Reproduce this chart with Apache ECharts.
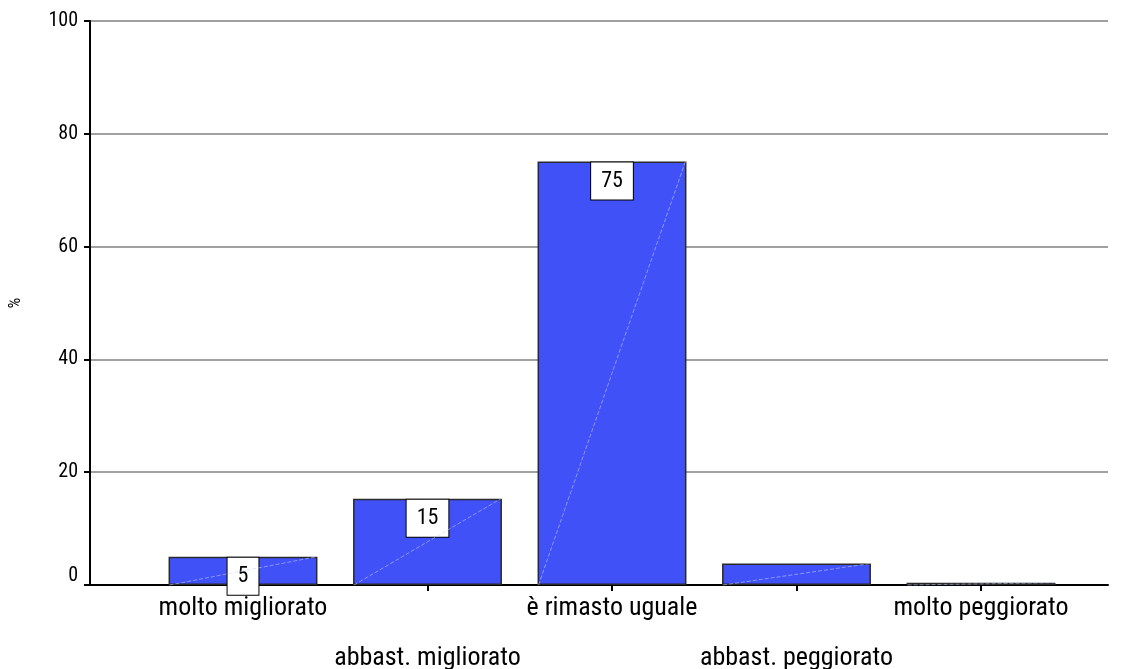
<!DOCTYPE html>
<html>
<head>
<meta charset="utf-8">
<script src="https://cdn.jsdelivr.net/npm/echarts@6/dist/echarts.min.js"></script>
<style>html,body{margin:0;padding:0;background:#fff}#c{width:1123px;height:669px}</style>
</head>
<body>
<div id="c"></div>
<script>
const categories = ['molto migliorato', 'abbast. migliorato', 'è rimasto uguale', 'abbast. peggiorato', 'molto peggiorato'];
const values = [5.0, 15.3, 75.1, 3.8, 0.4];
const valueLabels = ['5', '15', '75', '', ''];
const yTicks = [0, 20, 40, 60, 80, 100];

const FONT = "'Roboto Condensed', 'Liberation Sans Narrow', 'DejaVu Sans Condensed', 'Roboto', sans-serif";
const chart = echarts.init(document.getElementById('c'), null, {renderer: 'canvas'});

const barData = values.map((v, i) => ({
  value: v,
  label: {show: valueLabels[i] !== ''}
}));

const option = {
  animation: false,
  textStyle: {fontFamily: FONT},
  grid: [
    {left: 90, right: 15, top: 21, bottom: 84, containLabel: false, outerBoundsMode: 'none'},
    {left: 150.75, right: 49.75, top: 21, bottom: 84, containLabel: false, outerBoundsMode: 'none'}
  ],
  xAxis: [
    {gridIndex: 0, type: 'value', min: 0, max: 1,
     axisLine: {show: true, lineStyle: {color: '#000', width: 2}},
     axisTick: {show: false}, axisLabel: {show: false}, splitLine: {show: false}},
    {gridIndex: 1, type: 'category', data: categories, boundaryGap: true,
     axisLine: {show: false},
     axisTick: {show: true, alignWithLabel: true, length: 6, lineStyle: {color: '#000', width: 2}},
     axisLabel: {
       interval: 0, margin: 10, color: '#000', fontSize: 26, fontFamily: FONT,
       formatter: (v, i) => (i % 2 ? '{b|' + v + '}' : '{a|' + v + '}'),
       rich: {
         a: {fontSize: 26, fontFamily: FONT, color: '#000'},
         b: {fontSize: 26, fontFamily: FONT, color: '#000', padding: [50, 0, 0, 0]}
       }
     }}
  ],
  yAxis: [
    {gridIndex: 0, type: 'value', min: yTicks[0], max: yTicks[yTicks.length - 1], interval: 20,
     name: '%', nameLocation: 'middle', nameGap: 66, nameRotate: 90,
     nameTextStyle: {color: '#000', fontSize: 17, fontFamily: FONT},
     axisLine: {show: true, lineStyle: {color: '#000', width: 2}},
     axisTick: {show: true, inside: false, length: 6, lineStyle: {color: '#000', width: 2}},
     axisLabel: {color: '#000', fontSize: 20, margin: 12, fontFamily: FONT,
       formatter: v => (v === 0 ? '{z|0}' : String(v)),
       rich: {z: {fontSize: 20, fontFamily: FONT, color: '#000', padding: [0, 0, 18, 0]}}},
     splitLine: {show: true, lineStyle: {color: '#808080', width: 1.5}}},
    {gridIndex: 1, type: 'value', min: 0, max: 100, show: false, splitLine: {show: false}}
  ],
  series: [{
    type: 'bar', xAxisIndex: 1, yAxisIndex: 1,
    data: barData, barWidth: '80.7%',
    itemStyle: {color: '#4051F7', borderColor: '#2a2a2a', borderWidth: 1.5},
    label: {
      show: true, position: 'insideTop', distance: 1,
      formatter: p => valueLabels[p.dataIndex],
      color: '#000', fontSize: 22, fontFamily: FONT,
      backgroundColor: '#fff', borderColor: '#000', borderWidth: 1,
      padding: [8, 10, 7, 10]
    },
    z: 2
  }, {
    type: 'custom', xAxisIndex: 1, yAxisIndex: 1, z: 3, silent: true,
    data: values.map((v, i) => [i, v]),
    renderItem: (params, api) => {
      const base = api.coord([api.value(0), 0]);
      const top = api.coord([api.value(0), api.value(1)]);
      const w = api.size([1, 0])[0] * 0.807;
      return {
        type: 'line',
        shape: {x1: base[0] - w / 2 + 1, y1: base[1], x2: base[0] + w / 2 - 1, y2: top[1]},
        style: {stroke: 'rgba(200,210,255,0.55)', lineWidth: 1, lineDash: [4, 2]}
      };
    }
  }]
};
chart.setOption(option);
</script>
</body>
</html>
